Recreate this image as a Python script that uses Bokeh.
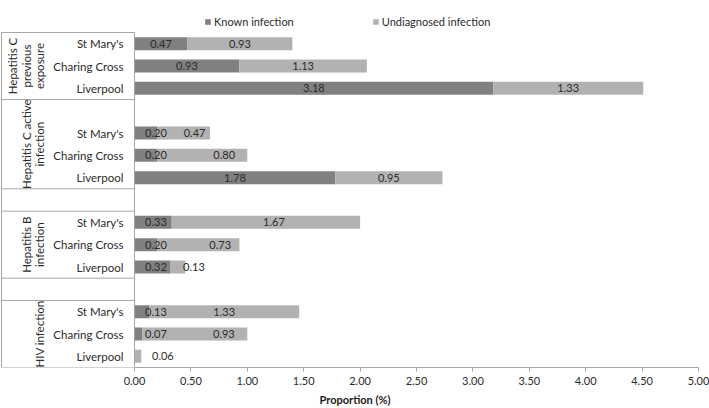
import math
from bokeh.plotting import figure
from bokeh.models import (ColumnDataSource, Range1d, FixedTicker, Legend, LegendItem,
                          PrintfTickFormatter)
from bokeh.core.properties import value
from bokeh.embed import file_html
from bokeh.resources import INLINE

# ---------------- data ----------------
groups = ["Hepatitis C previous exposure", "Hepatitis C active infection",
          "Hepatitis B infection", "HIV infection"]
group_label_lines = [["Hepatitis C", "previous", "exposure"],
                     ["Hepatitis C active", "infection"],
                     ["Hepatitis B", "infection"],
                     ["HIV infection"]]
sites = ["St Mary's", "Charing Cross", "Liverpool"]
known = [[0.47, 0.93, 3.18],
         [0.20, 0.20, 1.78],
         [0.33, 0.20, 0.32],
         [0.13, 0.07, 0.00]]
undiagnosed = [[0.93, 1.13, 1.33],
               [0.47, 0.80, 0.95],
               [1.67, 0.73, 0.13],
               [1.33, 0.93, 0.06]]
series_names = ["Known infection", "Undiagnosed infection"]
x_ticks = [0.0, 0.5, 1.0, 1.5, 2.0, 2.5, 3.0, 3.5, 4.0, 4.5, 5.0]
x_tick_labels = ["0.00", "0.50", "1.00", "1.50", "2.00", "2.50", "3.00",
                 "3.50", "4.00", "4.50", "5.00"]
x_title = "Proportion (%)"

# ---------------- layout / style ----------------
lead_blank = [0, 1, 0, 0]        # blank category rows before a group's bars
gap_after = [0, 1, 1, 0]         # blank separator blocks after a group
und_label_nudge = [0, 0, 0, 11, 22, 0, 8, 22, 16, 0, 29, 25]  # px, manual label drags
DARK = "#808080"
LIGHT = "#b2b2b2"
LINE = "#a6a6a6"
TXT = "#2b2b2b"
FONT = value("Lato")
FS = "11px"
FS_CAT = "11.5px"

W = 709
FRAME_H = 367
scale = 112.8                      # px per unit
X0 = -134.0 / scale
X1 = X0 + W / scale
x_left = X0 + 1.0 / scale

# compute row positions
y_rows, bounds, group_centers = [], [0], []
r = 0
for g in range(len(groups)):
    start = r
    r += lead_blank[g]
    for _ in sites:
        y_rows.append(r + 0.5)
        r += 1
    bounds.append(r)
    group_centers.append((start + r) / 2)
    if gap_after[g]:
        r += gap_after[g]
        bounds.append(r)
total_rows = r
rows_above = 32.0 / ((FRAME_H - 32.0) / total_rows)

k_flat = [v for row in known for v in row]
u_flat = [v for row in undiagnosed for v in row]
site_flat = [s for _ in groups for s in sites]

src = ColumnDataSource(dict(y=y_rows, known=k_flat, undiag=u_flat, site=site_flat))

kl = [(yy, max(k / 2, 0.19), f"{k:.2f}") for yy, k in zip(y_rows, k_flat) if k > 0]
k_src = ColumnDataSource(dict(y=[a[0] for a in kl], x=[a[1] for a in kl], t=[a[2] for a in kl]))
u_src = ColumnDataSource(dict(y=y_rows, x=[k + u / 2 for k, u in zip(k_flat, u_flat)],
                              t=[f"{u:.2f}" for u in u_flat], dx=und_label_nudge))

p = figure(width=W, frame_width=W, frame_height=FRAME_H,
           x_range=Range1d(X0, X1), y_range=Range1d(total_rows, -rows_above),
           output_backend="svg", toolbar_location=None, y_axis_location=None,
           min_border=0)
p.outline_line_color = None
p.xgrid.visible = False
p.ygrid.visible = False
p.background_fill_color = "white"

bars = p.hbar_stack(["known", "undiag"], y="y", height=0.58, color=[DARK, LIGHT],
                    source=src, line_color=None)

# table lines
p.segment(x0=[x_left] * len(bounds), x1=[0] * len(bounds), y0=bounds, y1=bounds,
          line_color=LINE, line_width=1)
p.segment(x0=[x_left, 0], x1=[x_left, 0], y0=[0, 0], y1=[total_rows, total_rows],
          line_color=LINE, line_width=1)

# site labels
p.text(x=0, y="y", text="site", source=src, x_offset=-11, text_align="right",
       text_baseline="middle", text_font=FONT, text_font_size=FS_CAT, text_color=TXT)

# group labels (rotated)
line_px = 13.5
gx_last = (39.0 - 134.0) / scale
gx, gy, gt = [], [], []
for g, lines in enumerate(group_label_lines):
    n = len(lines)
    for i, t in enumerate(lines):
        gx.append(gx_last - (n - 1 - i) * line_px / scale)
        gy.append(group_centers[g])
        gt.append(t)
p.text(x=gx, y=gy, text=gt, angle=math.pi / 2, text_align="center",
       text_baseline="middle", text_font=FONT, text_font_size=FS_CAT, text_color=TXT)

# value labels
p.text(x="x", y="y", text="t", source=k_src, text_align="center", text_baseline="middle",
       text_font=FONT, text_font_size=FS, text_color=TXT)
p.text(x="x", y="y", text="t", source=u_src, x_offset="dx", text_align="center",
       text_baseline="middle", text_font=FONT, text_font_size=FS, text_color=TXT)

# x axis
ax = p.xaxis[0]
ax.ticker = FixedTicker(ticks=x_ticks)
ax.formatter = PrintfTickFormatter(format="%.2f")
ax.major_label_overrides = {t: l for t, l in zip(x_ticks, x_tick_labels)}
ax.bounds = (x_ticks[0], x_ticks[-1])
ax.axis_line_color = LINE
ax.major_tick_line_color = LINE
ax.minor_tick_line_color = None
ax.major_tick_in = 0
ax.major_tick_out = 4
ax.major_label_standoff = 5
ax.major_label_text_font = "Lato"
ax.major_label_text_font_size = FS
ax.major_label_text_color = TXT
ax.axis_label = x_title
ax.axis_label_text_font = "Lato"
ax.axis_label_text_font_size = FS
ax.axis_label_text_font_style = "bold"
ax.axis_label_text_color = "#1a1a1a"
ax.axis_label_standoff = 5

legend = Legend(items=[LegendItem(label=series_names[i], renderers=[bars[i]]) for i in range(2)],
                orientation="horizontal", location=(204, FRAME_H - 28),
                glyph_width=7, glyph_height=7, label_height=12, label_standoff=3,
                spacing=78, padding=2, margin=0, border_line_color=None,
                background_fill_alpha=0, label_text_font="Lato", label_text_font_size=FS,
                label_text_color=TXT)
p.add_layout(legend)

open("out.html", "w").write(file_html(p, INLINE))
